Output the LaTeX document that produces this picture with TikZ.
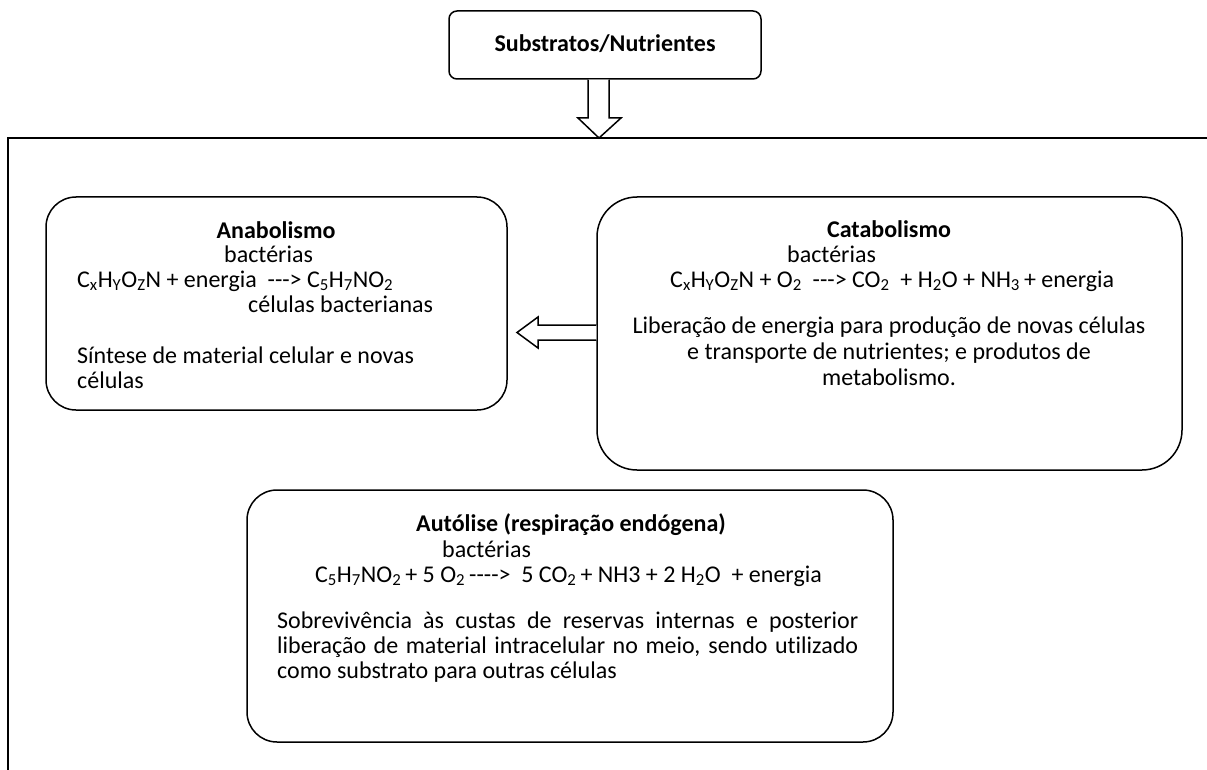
\documentclass[tikz,border=0pt]{standalone}
\usepackage{fontspec}
\setmainfont{Carlito}[Ligatures={NoCommon}]
\usetikzlibrary{calc}
\newcommand{\ix}[1]{\textsubscript{#1}}
\newcommand{\hy}{\mbox{-}}
\tikzset{
  panel/.style={draw, line width=1.5pt, rounded corners=#1, inner sep=0pt},
  txt/.style={inner sep=0pt, font=\fontsize{24}{25}\selectfont},
  ttl/.style={inner sep=0pt, font=\fontsize{24}{25}\selectfont\bfseries},
  blockarrow/.style={draw, line width=1.5pt, fill=white, line join=miter},
  frame/.style={line width=1.5pt},
}
\begin{document}
\begin{tikzpicture}[x=1pt,y=-1pt]
\useasboundingbox (0,0) rectangle (1207,770);

% open frame around the processes
\coordinate (fl) at (8,138);
\coordinate (fr) at (1207,138);
\coordinate (fb) at (8,770);
\draw[frame] (fr) -- (fl) -- (fb);

% input box
\node[panel=8, minimum width=312, minimum height=68] (sub) at (605,45) {};
\node[ttl, anchor=base] (subT) at (605,52) {Substratos/Nutrientes};

% anabolism
\node[panel=30, minimum width=461, minimum height=213] (ana) at (276.5,303.5) {};
\node[ttl, anchor=base] (anaT) at (276,238) {Anabolismo};
\node[txt, anchor=base west] (anaB) at (224,262) {bactérias};
\node[txt, anchor=base west] (anaF) at (77,287) {C\ix{x}H\ix{Y}O\ix{Z}N + energia\ \ \hy\hy\hy> C\ix{5}H\ix{7}NO\ix{2}};
\node[txt, anchor=base west] (anaC) at (248,312) {células bacterianas};
\node[txt, anchor=base west] (anaD) at (77,363) {Síntese de material celular e novas};
\node[txt, anchor=base west] (anaE) at (77,388) {células};

% catabolism
\node[panel=40, minimum width=585, minimum height=273] (cat) at (889.5,333.5) {};
\node[ttl, anchor=base] (catT) at (889,237) {Catabolismo};
\node[txt, anchor=base west] (catB) at (787,262) {bactérias};
\node[txt, anchor=base west] (catF) at (670,287) {C\ix{x}H\ix{Y}O\ix{Z}N + O\ix{2}\ \ \hy\hy\hy> CO\ix{2}\ \ + H\ix{2}O + NH\ix{3}\,+ energia};
\node[txt, anchor=base] (catD) at (889,333) {Liberação de energia para produção de novas células};
\node[txt, anchor=base] (catE) at (889,359) {e transporte de nutrientes; e produtos de};
\node[txt, anchor=base] (catG) at (889,385) {metabolismo.};

% autolysis
\node[panel=30, minimum width=646, minimum height=252] (aut) at (570,616) {};
\node[ttl, anchor=base] (autT) at (571,531) {Autólise (respiração endógena)};
\node[txt, anchor=base west] (autB) at (442,557) {bactérias};
\node[txt, anchor=base east] (autF) at (822,582) {C\ix{5}H\ix{7}NO\ix{2}\,+ 5 O\ix{2}\,\hy\hy\hy\hy>\ \ 5 CO\ix{2}\,+ NH3 + 2 H\ix{2}O\ \ + energia};
\node[txt, anchor=north west, text width=581, align=justify] (autD) at (277,612)
  {Sobrevivência às custas de reservas internas e posterior\linebreak
   liberação de material intracelular no meio, sendo utilizado\linebreak
   como substrato para outras células};

% block arrow: nutrients into the frame
\coordinate (dtip) at (599,138);
\draw[blockarrow] (588,0 |- sub.south) -- (588,118) -- (578,118) -- (dtip)
  -- (621,118) -- (609,118) -- (609,0 |- sub.south);

% block arrow: catabolism feeds anabolism
\coordinate (ltip) at (517,332.5);
\draw[blockarrow] (cat.west |- 0,325) -- (538,325) -- (538,317) -- (ltip)
  -- (538,348) -- (538,340) -- (cat.west |- 0,340);
\end{tikzpicture}
\end{document}
